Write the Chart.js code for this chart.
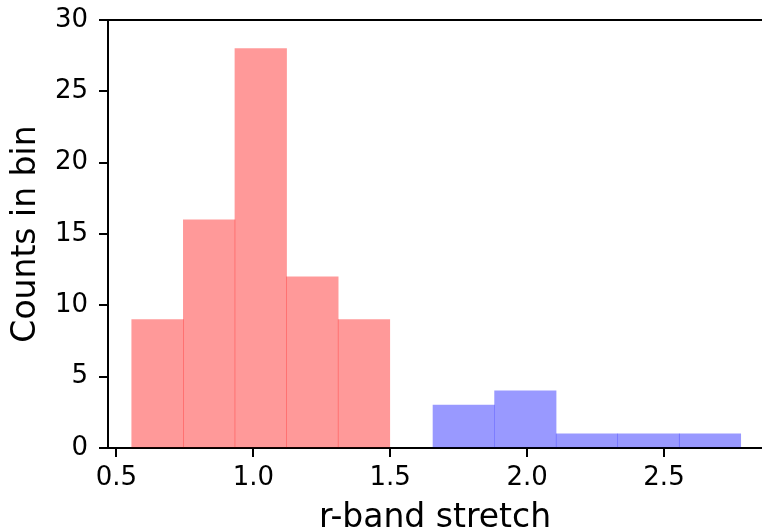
<!DOCTYPE html>
<html>
<head>
<meta charset="utf-8">
<script src="https://cdn.jsdelivr.net/npm/chart.js@4.4.1/dist/chart.umd.min.js"></script>
<style>
  html, body { margin: 0; padding: 0; background: #ffffff; }
  #wrap { width: 762px; height: 532px; }
</style>
</head>
<body>
<div id="wrap"><canvas id="c" width="762" height="532"></canvas></div>
<script>
// ---- data ----
const redBinEdges  = [0.556, 0.744, 0.933, 1.121, 1.310, 1.498];
const redCounts    = [9, 16, 28, 12, 9];
const blueBinEdges = [1.656, 1.881, 2.106, 2.331, 2.556, 2.780];
const blueCounts   = [3, 4, 1, 1, 1];
const xTickValues  = [0.5, 1.0, 1.5, 2.0, 2.5];
const yTickValues  = [0, 5, 10, 15, 20, 25, 30];
const xLabel = 'r-band stretch';
const yLabel = 'Counts in bin';

function binPoints(edges, counts) {
  return counts.map((c, i) => ({ x: (edges[i] + edges[i + 1]) / 2, y: c }));
}

const FONT = "'DejaVu Sans', 'Liberation Sans', sans-serif";
const tickFont = { family: FONT, size: 26 };
const titleFont = { family: FONT, size: 33, lineHeight: 0.8 };

const topLine = {
  id: 'topLine',
  afterDatasetsDraw(chart) {
    const { ctx, chartArea } = chart;
    ctx.save();
    ctx.strokeStyle = '#000';
    ctx.lineWidth = 2;
    ctx.beginPath();
    ctx.moveTo(chartArea.left - 1, chartArea.top);
    ctx.lineTo(chartArea.right, chartArea.top);
    ctx.stroke();
    ctx.restore();
  }
};

const xCommon = {
  type: 'linear',
  min: 0.469,
  max: 2.858,
  offset: false,
  afterBuildTicks: s => { s.ticks = xTickValues.map(v => ({ value: v })); }
};

new Chart(document.getElementById('c'), {
  type: 'bar',
  data: {
    datasets: [
      {
        data: binPoints(redBinEdges, redCounts),
        backgroundColor: 'rgba(255,0,0,0.4)',
        borderWidth: 0,
        xAxisID: 'x',
        barPercentage: 1,
        categoryPercentage: 1,
        grouped: false
      },
      {
        data: binPoints(blueBinEdges, blueCounts),
        backgroundColor: 'rgba(0,0,255,0.4)',
        borderWidth: 0,
        xAxisID: 'x2',
        barPercentage: 1,
        categoryPercentage: 1,
        grouped: false
      }
    ]
  },
  options: {
    responsive: false,
    animation: false,
    devicePixelRatio: 1,
    layout: { padding: { top: 20, right: 0, left: 0, bottom: 0 } },
    plugins: { legend: { display: false }, tooltip: { enabled: false } },
    scales: {
      x: Object.assign({}, xCommon, {
        position: 'bottom',
        grid: { offset: false, drawOnChartArea: false, drawTicks: true, tickLength: 9, color: '#000', lineWidth: 2 },
        border: { display: true, color: '#000', width: 2 },
        ticks: { color: '#000', font: tickFont, padding: 6, maxRotation: 0,
                 callback: v => Number(v).toFixed(1) },
        title: { display: true, text: xLabel, color: '#000', font: titleFont, padding: { top: 0, bottom: 0 } },
        afterFit: s => { s.height = 84; s.paddingLeft = 0; s.paddingRight = 0; }
      }),
      x2: Object.assign({}, xCommon, { position: 'bottom', display: false, grid: { offset: false } }),
      y: {
        type: 'linear',
        min: 0,
        max: 30,
        afterBuildTicks: s => { s.ticks = yTickValues.map(v => ({ value: v })); },
        grid: { drawOnChartArea: false, drawTicks: true, tickLength: 9, color: '#000', lineWidth: 2 },
        border: { display: true, color: '#000', width: 2 },
        ticks: { color: '#000', font: tickFont, padding: 11 },
        title: { display: true, text: yLabel, color: '#000', font: titleFont, padding: { top: 13, bottom: 0 } },
        afterFit: s => { s.width = 108; s.paddingTop = 0; s.paddingBottom = 0; }
      }
    }
  },
  plugins: [topLine]
});
</script>
</body>
</html>
